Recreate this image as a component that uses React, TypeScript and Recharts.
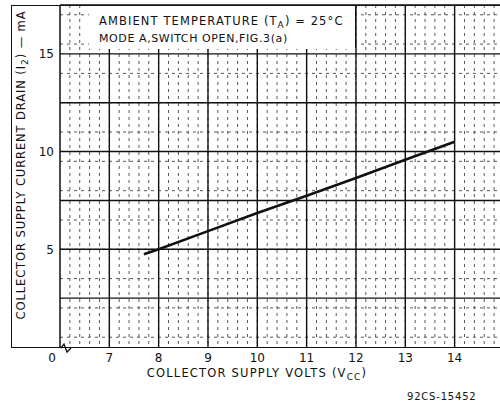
import React from 'react';
import { LineChart, Line, XAxis, YAxis, CartesianGrid, ReferenceLine } from 'recharts';

// collector supply volts vs current drain (mA)
const volts = [7.7, 8, 9, 10, 11, 12, 13, 14];
const drainMa = [4.75, 5.0, 5.93, 6.86, 7.74, 8.65, 9.58, 10.5];

const xTicks = [6, 7, 8, 9, 10, 11, 12, 13, 14];
const yTicks = [5, 10, 15];

// grid rulings of the graph paper
const xMajor = [7, 8, 9, 10, 11, 12, 13, 14];
const yMajor = [2.5, 5, 7.5, 10, 12.5, 15];
const xMinor: number[] = [];
for (let v = 6.2; v < 14.95; v += 0.2) xMinor.push(Math.round(v * 10) / 10);
const yMinor: number[] = [];
for (let v = 0.5; v < 17.5; v += 0.5) yMinor.push(v);

const data = volts.map((v, i) => ({ v, ma: drainMa[i] }));

const font = '"DejaVu Sans", "Liberation Sans", sans-serif';

const XTick = (props: any) => {
  const { x, y, payload } = props;
  if (payload.value === 6) {
    return (
      <g>
        <text x={x - 8} y={y + 4} textAnchor="middle" dominantBaseline="hanging" fontSize={12} fontFamily={font} fill="#111">0</text>
        <path d={`M${x + 1},${y - 1} L${x + 4},${y - 5} L${x + 7},${y + 3} L${x + 11},${y - 1}`} fill="none" stroke="#111" strokeWidth={1.3} />
      </g>
    );
  }
  return (
    <text x={x} y={y + 4} textAnchor="middle" dominantBaseline="hanging" fontSize={12} fontFamily={font} fill="#111">{payload.value}</text>
  );
};

export default function App() {
  return (
    <div style={{ position: 'relative', width: 500, height: 404, background: '#fff', fontFamily: font, color: '#111' }}>
      <style>{'body{margin:0}'}</style>
      <LineChart width={500} height={404} data={data} margin={{ top: 5, right: 0, bottom: 0, left: 0 }}>
        <CartesianGrid
          verticalValues={xMinor}
          horizontalValues={yMinor}
          stroke="#444"
          strokeDasharray="3 4"
          strokeWidth={0.9}
        />
        {xMajor.map(v => (
          <ReferenceLine key={'x' + v} x={v} stroke="#111" strokeWidth={1.4} />
        ))}
        {yMajor.map(v => (
          <ReferenceLine key={'y' + v} y={v} stroke="#111" strokeWidth={1.4} />
        ))}
        <ReferenceLine x={6} stroke="#111" strokeWidth={1.5} />
        <ReferenceLine y={17.5} stroke="#111" strokeWidth={1.5} />
        <XAxis
          dataKey="v"
          type="number"
          domain={[6, 14.92]}
          ticks={xTicks}
          allowDataOverflow
          height={57}
          tickLine={false}
          axisLine={false}
          tickSize={0}
          tick={<XTick />}
          interval={0}
        />
        <YAxis
          type="number"
          domain={[0, 17.5]}
          ticks={yTicks}
          allowDataOverflow
          width={60}
          tickLine={false}
          axisLine={false}
          tickSize={0}
          tickMargin={6}
          tick={{ fontSize: 12, fill: '#111', fontFamily: font }}
        />
        <Line type="linear" dataKey="ma" stroke="#111" strokeWidth={2.6} dot={false} isAnimationActive={false} />
      </LineChart>

      {/* outer frame around the y title */}
      <div style={{ position: 'absolute', left: 11, top: 5, width: 489, height: 341, borderLeft: '1.5px solid #111', borderTop: '1.5px solid #111', borderBottom: '1.5px solid #111', pointerEvents: 'none' }} />

      {/* condition box */}
      <div style={{ position: 'absolute', left: 89, top: 6, width: 266, height: 42, background: '#fff', borderRight: '1.5px solid #111', borderBottom: '1px solid #fff' }}>
        <div style={{ position: 'absolute', left: 10, top: 8, fontSize: 11.5, letterSpacing: 1.1, whiteSpace: 'nowrap' }}>
          AMBIENT TEMPERATURE (T<sub style={{ fontSize: 9 }}>A</sub>) = 25°C
        </div>
        <div style={{ position: 'absolute', left: 10, top: 26, fontSize: 11, letterSpacing: 0.6, whiteSpace: 'nowrap' }}>
          MODE A,SWITCH OPEN,FIG.3(a)
        </div>
      </div>

      {/* y title */}
      <div style={{ position: 'absolute', left: 22, top: 165, transform: 'translate(-50%, -50%) rotate(-90deg)', fontSize: 11.5, letterSpacing: 0.9, whiteSpace: 'nowrap' }}>
        COLLECTOR SUPPLY CURRENT DRAIN (I<sub style={{ fontSize: 9 }}>2</sub>) — mA
      </div>

      {/* x title */}
      <div style={{ position: 'absolute', left: 257, top: 374, transform: 'translate(-50%, -50%)', fontSize: 11.5, letterSpacing: 1.2, whiteSpace: 'nowrap' }}>
        COLLECTOR SUPPLY VOLTS (V<sub style={{ fontSize: 9 }}>CC</sub>)
      </div>

      <div style={{ position: 'absolute', left: 407, top: 391, fontSize: 10, letterSpacing: 0.8, whiteSpace: 'nowrap' }}>
        92CS-15452
      </div>
    </div>
  );
}
